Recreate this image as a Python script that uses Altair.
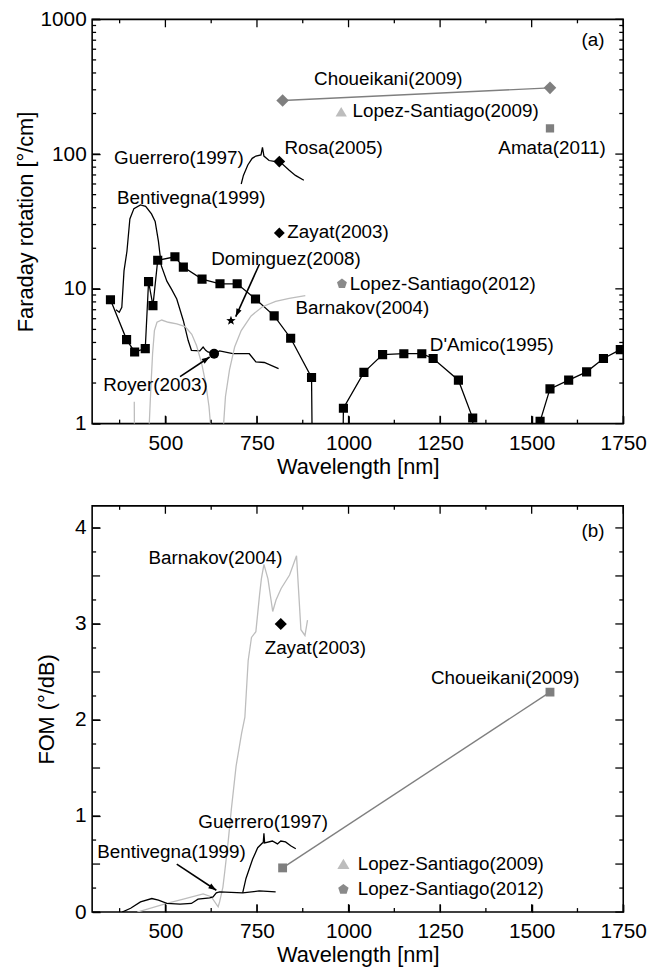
import math
import altair as alt
import pandas as pd

# ---------------- data: panel (a) Faraday rotation ----------------
damico_nm = [350, 394, 416, 445, 454, 466, 479, 526, 549, 600, 649, 696, 746, 797, 842, 899, 905,
             980, 986, 1042, 1093, 1151, 1200, 1231, 1300, 1339, 1345,
             1518, 1523, 1550, 1601, 1650, 1696, 1742]
damico_v = [8.3, 4.2, 3.4, 3.6, 11.3, 7.5, 16.3, 17.3, 14.5, 11.8, 10.9, 10.9, 8.4, 6.3, 4.3, 2.2, 0.05,
            0.05, 1.3, 2.4, 3.25, 3.3, 3.3, 3.04, 2.1, 1.1, 0.05,
            0.05, 1.04, 1.81, 2.1, 2.42, 3.04, 3.54]

bent_a_nm = [365, 374, 381, 387, 395, 403, 414, 432, 446, 462, 472, 481, 489, 504, 517, 531, 549,
             562, 571, 594, 603, 610, 616, 633, 648, 684, 729, 747, 770, 809]
bent_a_v = [7.0, 6.7, 7.3, 13.6, 19, 33, 39.4, 42, 41, 36, 31.6, 22.5, 14.8, 11.4, 9.9, 8.4, 5.8,
            4.15, 3.5, 3.46, 3.7, 3.5, 3.4, 3.3, 3.46, 3.3, 3.3, 2.87, 2.84, 2.56]

guer_a_nm = [707, 713, 725, 737, 747, 761, 765, 769, 783, 797, 815, 838, 855, 878]
guer_a_v = [60, 69.5, 83, 93, 96.7, 98.5, 112, 96.7, 89.6, 88.3, 86.5, 75.8, 69.5, 64]

barn_a_nm = [415, 418, 453, 456, 460, 465, 470, 477, 490, 508, 531, 554, 572, 585, 599, 610, 619, 623,
             627, 655, 659, 664, 675, 689, 707, 734, 765, 801, 838, 882]
barn_a_v = [1.45, 0.05, 0.05, 1.0, 1.78, 3.3, 4.9, 5.65, 5.87, 5.65, 5.5, 5.25, 4.6, 3.8, 2.8, 2.0, 1.34, 1.0,
            0.05, 0.05, 1.0, 1.59, 2.5, 3.7, 4.9, 6.3, 7.37, 8.07, 8.5, 8.9]

chou_a_nm = [820, 1550]
chou_a_v = [250, 310]

rosa_nm, rosa_v = [811], [88]
zayat_a_nm, zayat_a_v = [811], [26]
dominguez_nm, dominguez_v = [679], [5.8]
royer_nm, royer_v = [633], [3.3]
ls2012_a_nm, ls2012_a_v = [982], [10.9]
ls2009_a_nm, ls2009_a_v = [980], [207]
amata_nm, amata_v = [1550], [155]

labels_a = ["Choueikani(2009)", "Lopez-Santiago(2009)", "Amata(2011)", "Guerrero(1997)", "Rosa(2005)",
            "Bentivegna(1999)", "Zayat(2003)", "Dominguez(2008)", "Lopez-Santiago(2012)",
            "Barnakov(2004)", "D'Amico(1995)", "Royer(2003)", "(a)"]
labels_a_nm = [906, 1011, 1409, 360, 825, 368, 833, 625, 1003, 855, 1222, 330, 1636]
labels_a_v = [362, 207, 111, 93.5, 111, 47.5, 26.2, 16.6, 10.9, 7.25, 3.81, 1.94, 701]

arrows_a_nm = [757, 540]
arrows_a_v = [15.3, 2.23]
arrows_a_nm2 = [692, 621]
arrows_a_v2 = [6.22, 3.12]

# ---------------- data: panel (b) FOM ----------------
barn_b_nm = [423, 504, 549, 603, 625, 644, 648, 657, 662, 671, 680, 693, 708, 717, 726, 735, 747, 757,
             762, 769, 780, 793, 802, 816, 839, 858, 870, 881, 888]
barn_b_v = [0.0, 0.09, 0.134, 0.19, 0.16, 0.055, 0.106, 0.26, 0.42, 0.72, 1.07, 1.52, 1.86, 2.03, 2.62,
            2.86, 2.92, 3.3, 3.47, 3.62, 3.47, 3.13, 3.25, 3.37, 3.51, 3.71, 2.94, 2.88, 3.04]

bent_b_nm = [382, 405, 432, 463, 481, 504, 540, 571, 589, 621, 630, 639, 648, 711, 756, 801]
bent_b_v = [0.0, 0.04, 0.106, 0.141, 0.124, 0.09, 0.082, 0.09, 0.134, 0.147, 0.158, 0.2, 0.21, 0.2, 0.22, 0.21]

guer_b_nm = [711, 720, 738, 752, 765, 767, 769, 771, 792, 806, 815, 828, 842, 856]
guer_b_v = [0.2, 0.35, 0.55, 0.67, 0.72, 0.72, 0.82, 0.72, 0.74, 0.71, 0.74, 0.73, 0.69, 0.66]

chou_b_nm = [820, 1550]
chou_b_v = [0.46, 2.29]

zayat_b_nm, zayat_b_v = [815], [3.0]
ls2009_b_nm, ls2009_b_v = [986], [0.505]
ls2012_b_nm, ls2012_b_v = [986], [0.237]

labels_b = ["(b)", "Barnakov(2004)", "Zayat(2003)", "Choueikani(2009)", "Guerrero(1997)",
            "Bentivegna(1999)", "Lopez-Santiago(2009)", "Lopez-Santiago(2012)"]
labels_b_nm = [1636, 454, 771, 1225, 590, 314, 1025, 1025]
labels_b_v = [3.97, 3.69, 2.75, 2.44, 0.94, 0.62, 0.505, 0.237]

arrows_b_nm = [531]
arrows_b_v = [0.50]
arrows_b_nm2 = [639]
arrows_b_v2 = [0.227]

# ---------------- ticks ----------------
X_DOMAIN = [300, 1750]
X_MAJOR = [500, 750, 1000, 1250, 1500, 1750]
X_MINOR = [375, 625, 875, 1125, 1375, 1625]
YA_DOMAIN = [1, 1000]
YA_MAJOR = [1, 10, 100, 1000]
YA_MINOR = [2, 3, 4, 5, 6, 7, 8, 9, 20, 30, 40, 50, 60, 70, 80, 90, 200, 300, 400, 500, 600, 700, 800, 900]
YB_DOMAIN = [0, 4.23]
YB_MAJOR = [0, 0.5, 1, 1.5, 2, 2.5, 3, 3.5, 4]
YB_MINOR = [0.25, 0.75, 1.25, 1.75, 2.25, 2.75, 3.25, 3.75]

# ---------------- style ----------------
W, HA, HB = 536, 408, 410
FONT = "Liberation Sans"
BLACK = "#000000"
GRAY = "#7f7f7f"
LIGHT = "#bdbdbd"
PENT = "#8a8a8a"
MAJ, MIN = 8, 4


def poly_path(n, r_in=None):
    pts = []
    steps = n * 2 if r_in else n
    for k in range(steps):
        r = 1.0 if (r_in is None or k % 2 == 0) else r_in
        a = math.radians(-90 + 360.0 / steps * k)
        pts.append(f"{r * math.cos(a):.3f},{r * math.sin(a):.3f}")
    return "M" + "L".join(pts) + "Z"


STAR = poly_path(5, 0.42)
PENTAGON = poly_path(5)
TRI = "M0,-0.8L1,0.9L-1,0.9Z"
HEAD = "M0,0L0.7,2L-0.7,2Z"

xs = alt.Scale(domain=X_DOMAIN, nice=False, zero=False)
ys_a = alt.Scale(type="log", domain=YA_DOMAIN, nice=False)
ys_b = alt.Scale(domain=YB_DOMAIN, nice=False, zero=False)


def label_axis(orient, values, title, label_pad, title_pad, label_expr=None):
    kw = dict(orient=orient, values=values, tickSize=MAJ, offset=-MAJ, domain=False, grid=False,
              ticks=True, tickColor=BLACK, tickWidth=1.3, labels=True, labelFontSize=21,
              labelFont=FONT, labelColor=BLACK, labelFlush=False, labelOverlap=False,
              labelPadding=label_pad, format="d",
              title=title, titleFontSize=22, titleFont=FONT, titleFontWeight="normal",
              titleColor=BLACK, titlePadding=title_pad)
    if label_expr:
        kw["labelExpr"] = label_expr
    return alt.Axis(**kw)


def df_of(nm, v):
    return pd.DataFrame({"nm": nm, "v": v, "i": list(range(len(nm)))})


def enc(yscale, xaxis=None, yaxis=None):
    return dict(
        x=alt.X("nm:Q", scale=xs, axis=xaxis),
        y=alt.Y("v:Q", scale=yscale, axis=yaxis),
    )


def line(nm, v, color, yscale, width=1.3, xaxis=None, yaxis=None):
    return alt.Chart(df_of(nm, v)).mark_line(color=color, strokeWidth=width, clip=True).encode(
        order="i:Q", **enc(yscale, xaxis, yaxis))


def pts(nm, v, shape, size, color, yscale, flt=None):
    ch = alt.Chart(df_of(nm, v))
    if flt:
        ch = ch.transform_filter(flt)
    return ch.mark_point(shape=shape, size=size, filled=True, color=color, opacity=1,
                         strokeWidth=0, clip=True).encode(**enc(yscale))


def texts(lbls, nm, v, yscale):
    d = pd.DataFrame({"label": lbls, "nm": nm, "v": v})
    return alt.Chart(d).mark_text(align="left", baseline="middle", fontSize=19, font=FONT,
                                  color=BLACK).encode(text="label:N", **enc(yscale))


def xticks(vals, length, top, h):
    y0, y1 = (0, length) if top else (h, h - length)
    return alt.Chart(pd.DataFrame({"t": vals})).mark_rule(color=BLACK, strokeWidth=1.3).encode(
        x=alt.X("t:Q", scale=xs, axis=None), y=alt.value(y0), y2=alt.value(y1))


def yticks(vals, length, right, yscale):
    x0, x1 = (W, W - length) if right else (0, length)
    return alt.Chart(pd.DataFrame({"t": vals})).mark_rule(color=BLACK, strokeWidth=1.3).encode(
        y=alt.Y("t:Q", scale=yscale, axis=None), x=alt.value(x0), x2=alt.value(x1))


def frame_ticks(ymaj, ymin, yscale, h):
    return [xticks(X_MAJOR, MAJ, False, h), xticks(X_MINOR, MIN, False, h),
            xticks(X_MAJOR, MAJ, True, h), xticks(X_MINOR, MIN, True, h),
            yticks(ymaj, MAJ, False, yscale), yticks(ymin, MIN, False, yscale),
            yticks(ymaj, MAJ, True, yscale), yticks(ymin, MIN, True, yscale)]


def px_x(nm):
    return (nm - X_DOMAIN[0]) / (X_DOMAIN[1] - X_DOMAIN[0]) * W


def arrow_df(nm, v, nm2, v2, ypix):
    ang = []
    for a, b, c, d in zip(nm, v, nm2, v2):
        dx = px_x(c) - px_x(a)
        dy = ypix(d) - ypix(b)
        ang.append((math.degrees(math.atan2(dx, -dy)) + 360) % 360)
    return pd.DataFrame({"nm": nm, "v": v, "nm2": nm2, "v2": v2, "ang": ang})


def shafts(d, yscale):
    return alt.Chart(d).mark_rule(color=BLACK, strokeWidth=1.6).encode(
        x=alt.X("nm:Q", scale=xs, axis=None), y=alt.Y("v:Q", scale=yscale, axis=None),
        x2="nm2:Q", y2="v2:Q")


def heads(d, yscale):
    return alt.Chart(d).mark_point(shape=HEAD, size=64, filled=True, color=BLACK, opacity=1,
                                   strokeWidth=0).encode(
        x=alt.X("nm2:Q", scale=xs, axis=None), y=alt.Y("v2:Q", scale=yscale, axis=None),
        angle=alt.Angle("ang:Q", scale=None))


def ypix_a(v):
    return HA - math.log10(v) / 3.0 * HA


def ypix_b(v):
    return HB - v / YB_DOMAIN[1] * HB


INT_ONLY = "datum.value % 1 == 0 ? format(datum.value, 'd') : ''"

arr_a = arrow_df(arrows_a_nm, arrows_a_v, arrows_a_nm2, arrows_a_v2, ypix_a)
arr_b = arrow_df(arrows_b_nm, arrows_b_v, arrows_b_nm2, arrows_b_v2, ypix_b)

# ---------------- panel (a) ----------------
a_layers = [
    line(damico_nm, damico_v, BLACK, ys_a,
         xaxis=label_axis("bottom", X_MAJOR, "Wavelength [nm]", 9, 3),
         yaxis=label_axis("left", YA_MAJOR, "Faraday rotation [°/cm]", 6, 2)),
    line(bent_a_nm, bent_a_v, BLACK, ys_a),
    line(guer_a_nm, guer_a_v, BLACK, ys_a),
    line(barn_a_nm, barn_a_v, LIGHT, ys_a),
    line(chou_a_nm, chou_a_v, GRAY, ys_a, width=1.4),
    *frame_ticks(YA_MAJOR, YA_MINOR, ys_a, HA),
    pts(damico_nm, damico_v, "square", 85, BLACK, ys_a, flt="datum.v >= 1"),
    pts(chou_a_nm, chou_a_v, "diamond", 160, GRAY, ys_a),
    pts(rosa_nm, rosa_v, "diamond", 140, BLACK, ys_a),
    pts(zayat_a_nm, zayat_a_v, "diamond", 120, BLACK, ys_a),
    pts(dominguez_nm, dominguez_v, STAR, 100, BLACK, ys_a),
    pts(royer_nm, royer_v, "circle", 100, BLACK, ys_a),
    pts(ls2012_a_nm, ls2012_a_v, PENTAGON, 110, PENT, ys_a),
    pts(ls2009_a_nm, ls2009_a_v, TRI, 130, LIGHT, ys_a),
    pts(amata_nm, amata_v, "square", 70, GRAY, ys_a),
    shafts(arr_a, ys_a),
    heads(arr_a, ys_a),
    texts(labels_a, labels_a_nm, labels_a_v, ys_a),
]
panel_a = alt.layer(*a_layers).resolve_axis(x="independent", y="independent").properties(width=W, height=HA)

# ---------------- panel (b) ----------------
b_layers = [
    line(barn_b_nm, barn_b_v, LIGHT, ys_b,
         xaxis=label_axis("bottom", X_MAJOR, "Wavelength [nm]", 9, 3),
         yaxis=label_axis("left", YB_MAJOR, "FOM (°/dB)", 6, 16, INT_ONLY)),
    line(bent_b_nm, bent_b_v, BLACK, ys_b),
    line(guer_b_nm, guer_b_v, BLACK, ys_b),
    line(chou_b_nm, chou_b_v, GRAY, ys_b, width=1.4),
    *frame_ticks(YB_MAJOR, YB_MINOR, ys_b, HB),
    pts(chou_b_nm, chou_b_v, "square", 80, GRAY, ys_b),
    pts(zayat_b_nm, zayat_b_v, "diamond", 150, BLACK, ys_b),
    pts(ls2009_b_nm, ls2009_b_v, TRI, 150, LIGHT, ys_b),
    pts(ls2012_b_nm, ls2012_b_v, PENTAGON, 120, PENT, ys_b),
    shafts(arr_b, ys_b),
    heads(arr_b, ys_b),
    texts(labels_b, labels_b_nm, labels_b_v, ys_b),
]
panel_b = alt.layer(*b_layers).resolve_axis(x="independent", y="independent").properties(width=W, height=HB)

chart = alt.vconcat(panel_a, panel_b, spacing=83, bounds="flush").properties(
    padding={"left": 14, "top": 3, "right": 1, "bottom": 5}
).configure(
    font=FONT,
    background="white",
    view=alt.ViewConfig(stroke=BLACK, strokeWidth=1.6),
)

chart.save("out.html", embed_options={"renderer": "svg", "actions": False})
